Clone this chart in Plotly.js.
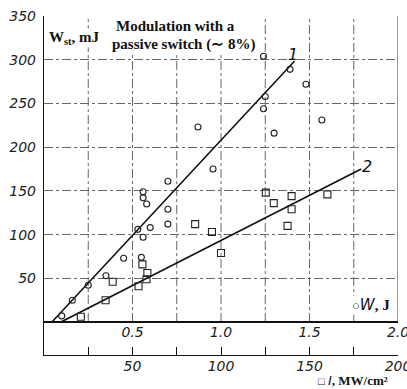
<!DOCTYPE html>
<html><head><meta charset="utf-8">
<script src="https://cdn.plot.ly/plotly-3.0.1.min.js"></script>
<style>html,body{margin:0;padding:0;background:#fff}#c{width:407px;height:389px}</style>
</head><body><div id="c"></div>
<script>
// Series 1: stored energy vs pumping energy W (J) — circles
var circleW  = [1.24,1.39,1.48,1.25,1.24,1.57,0.87,1.30,0.955,0.70,0.56,0.56,0.58,0.70,0.53,0.60,0.70,0.56,0.45,0.55,0.35,0.25,0.16,0.10];
var circleWst= [304,289,272,258,244,231,223,216,175,161,149,142,135,129,106,108,112,97,73,74,53,42,25,7];
// Series 2: stored energy vs intensity I (MW/cm^2) — squares
var squareI  = [125.3,139.9,160.1,129.8,139.9,137.6,85.4,94.9,100.0,55.6,58.4,57.9,53.4,38.8,34.8,20.8];
var squareWst= [148,144,146,136,129,110,112,103,79,66,56,49,41,46,25,6];
// Fitted lines 1 and 2 (endpoints)
var line1W   = [0.045, 1.416];
var line1Wst = [0, 298.5];
var line2I   = [9.6, 179.2];
var line2Wst = [0, 175];
// Axis ticks
var yTicks = [50,100,150,200,250,300,350];
var yTickText = ['50','100','150','200','250','300','350'];
var iTicks = [25,50,75,100,125,150,175,200];
var iTickText = ['','50','','100','','150','','200'];
var wTicks = [0.5,1.0,1.5,2.0];
var wTickText = ['0.5','1.0','1.5','2.0'];
var gridI = [25,50,75,100,125,150,175];

function ital(a){ return a.map(function(s){ return s ? '<i>'+s+'</i>' : ''; }); }

var tickFont = {family:'DejaVu Sans', size:14, style:'italic', color:'#222'};
var serifB = {family:'Liberation Serif', size:15, weight:700, color:'#111'};

var traces = [
  {x:line1W, y:line1Wst, xaxis:'x2', yaxis:'y', mode:'lines', line:{color:'#111', width:1.6}, hoverinfo:'skip'},
  {x:line2I, y:line2Wst, mode:'lines', line:{color:'#111', width:1.6}, hoverinfo:'skip'},
  {x:circleW, y:circleWst, xaxis:'x2', yaxis:'y', mode:'markers', marker:{symbol:'circle-open', size:6, color:'#222', line:{width:1.1}}},
  {x:squareI, y:squareWst, mode:'markers', marker:{symbol:'square-open', size:7, color:'#222', line:{width:1.1}}}
];

var shapes = [];
gridI.forEach(function(g){
  shapes.push({type:'line', xref:'x', yref:'y', x0:g, x1:g, y0:0, y1:350, layer:'below',
    line:{color:'#666', width:1, dash:'dashdot'}});
});
shapes.push({type:'line', xref:'x', yref:'y', x0:200, x1:200, y0:0, y1:350, layer:'below',
  line:{color:'#333', width:1}});

var layout = {
  width:407, height:389,
  margin:{l:44, r:9, t:16, b:34},
  paper_bgcolor:'#fff', plot_bgcolor:'#fff',
  showlegend:false, hovermode:false,
  xaxis:{range:[0,200], tickvals:iTicks, ticktext:ital(iTickText), ticks:'inside', ticklen:8, tickcolor:'#111',
    showline:true, linecolor:'#111', linewidth:1.2, showgrid:false, zeroline:false, tickfont:tickFont,
    ticklabeloverflow:'allow', ticklabelstandoff:-2},
  xaxis2:{range:[0,2], overlaying:'x', anchor:'free', position:0.0973, side:'bottom',
    tickvals:wTicks, ticktext:ital(wTickText), ticks:'', showline:false, showgrid:false, zeroline:false, tickfont:tickFont,
    ticklabeloverflow:'allow'},
  yaxis:{range:[-37.7,350], tickvals:yTicks, ticktext:ital(yTickText), ticks:'', showline:true, linecolor:'#111', linewidth:1.2,
    showgrid:true, gridcolor:'#666', griddash:'dashdot', gridwidth:1,
    zeroline:true, zerolinecolor:'#111', zerolinewidth:1.2, tickfont:tickFont, ticklabelstandoff:4},
  shapes:shapes,
  annotations:[
    {xref:'paper', yref:'paper', x:0.011, y:0.935, xanchor:'left', yanchor:'middle', showarrow:false,
      text:'W<sub>st</sub>, mJ', font:{family:'Liberation Serif', size:15, weight:700, color:'#111'}, bgcolor:'#fff', borderpad:0},
    {xref:'paper', yref:'paper', x:(175-44)/353, y:(355-26)/339, xanchor:'center', yanchor:'middle', showarrow:false,
      text:'Modulation with a', font:serifB, bgcolor:'#fff', borderpad:0},
    {xref:'paper', yref:'paper', x:(183-44)/353, y:(355-44)/339, xanchor:'center', yanchor:'middle', showarrow:false,
      text:'passive switch (\u223C 8%)', font:serifB, bgcolor:'#fff', borderpad:0},
    {xref:'paper', yref:'paper', x:(299-44)/353, y:(355-43)/339, showarrow:false, text:'<i>1</i>',
      font:{family:'DejaVu Sans', size:16, color:'#111'}},
    {xref:'paper', yref:'paper', x:(373-44)/353, y:(355-167)/339, showarrow:false, text:'<i>2</i>',
      font:{family:'DejaVu Sans', size:16, color:'#111'}},
    {xref:'paper', yref:'paper', x:(370-44)/353, y:(355-305)/339, xanchor:'center', yanchor:'middle', showarrow:false,
      text:'<span style="font-size:13px">\u25CB</span><i style="font-family:DejaVu Sans;font-weight:400">W</i>, J',
      font:{family:'Liberation Serif', size:15, weight:700, color:'#111'}, bgcolor:'#fff', borderpad:0},
    {xref:'paper', yref:'paper', x:(352-44)/353, y:(355-389)/339, xanchor:'center', yanchor:'bottom', showarrow:false,
      text:'<span style="font-size:11px">\u25A1</span> <i style="font-family:DejaVu Sans;font-weight:400">I</i>, MW/cm\u00B2',
      font:{family:'Liberation Serif', size:13, weight:700, color:'#111'}, borderpad:0}
  ]
};
Plotly.newPlot('c', traces, layout, {displayModeBar:false, staticPlot:true});
</script>
</body></html>
